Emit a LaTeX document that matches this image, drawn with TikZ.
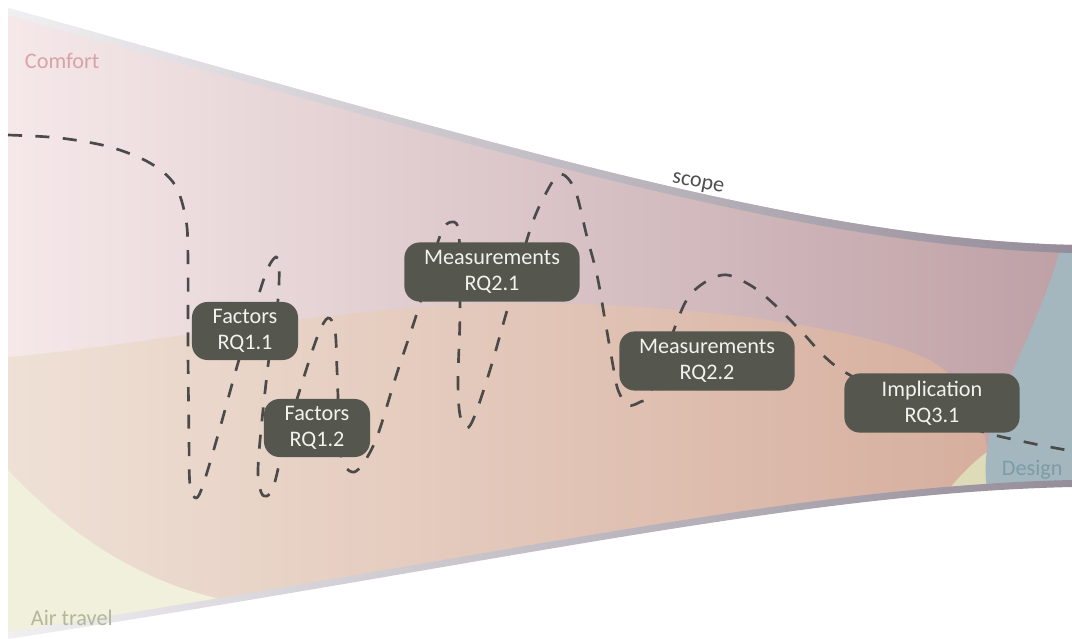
\documentclass[tikz,border=0pt]{standalone}
\usepackage{fontspec}
\setmainfont{Carlito}

\definecolor{boxgrey}{HTML}{55574E}
\definecolor{boxtext}{HTML}{F2F2EE}
\definecolor{trailgrey}{HTML}{4A4A48}
\definecolor{comfortL}{HTML}{F6E9EA}
\definecolor{comfortM}{HTML}{E9CDCF}
\definecolor{comfortR}{HTML}{BEA0A5}
\definecolor{overlapL}{HTML}{EFE1D6}
\definecolor{overlapM}{HTML}{E5C6B7}
\definecolor{overlapR}{HTML}{D6AE9E}
\definecolor{airL}{HTML}{F1F0DC}
\definecolor{airR}{HTML}{DEDBB9}
\definecolor{designblue}{HTML}{A4B7BE}
\definecolor{edgeL}{HTML}{F0EFF1}
\definecolor{edgeR}{HTML}{958D99}
\definecolor{comforttext}{HTML}{D9A2A4}
\definecolor{airtext}{HTML}{B3B697}
\definecolor{designtext}{HTML}{7E9BA8}
\definecolor{scopetext}{HTML}{505050}

\newcommand\boxfont{\fontsize{15.8}{18.5}\selectfont}

\begin{document}
\begin{tikzpicture}[x={0.025cm}, y={-0.025cm},
	rq/.style = {fill=boxgrey, text=boxtext, rounded corners=11pt, align=center, inner sep=0pt, font=\boxfont},
	small/.style = {minimum width=2.65cm, minimum height=1.45cm},
	wide/.style = {minimum width=4.38cm, minimum height=1.48cm},
	trail/.style = {draw=trailgrey, line width=1.9pt, dash pattern=on 10pt off 9.5pt},
	area/.style = {font=\boxfont, anchor=west}]
	\useasboundingbox (0,0) rectangle (1072,638);
	% the funnel and its three areas
	\begin{scope}
		\clip (8,8) .. controls (500,145) and (800,238) .. (1072,245) -- (1072,484) .. controls (800,490) and (500,560) .. (8,636) -- cycle;
		\shade[left color=comfortL, middle color=comfortM, right color=comfortR] (0,0) rectangle (1072,638);
		\shade[left color=overlapL, middle color=overlapM, right color=overlapR] (8,357) .. controls (150,345) and (300,310) .. (500,303) .. controls (700,302) and (870,330) .. (930,360) .. controls (970,385) and (990,420) .. (992,500) -- (0,650) -- cycle;
		\fill[airL] (8,470) .. controls (60,525) and (130,580) .. (225,600) -- (225,660) -- (0,660) -- (0,470) -- cycle;
		\fill[airR] (940,500) .. controls (960,475) and (975,460) .. (990,450) -- (1000,500) -- cycle;
		\fill[designblue] (1064,235) .. controls (1040,330) and (995,390) .. (987,450) .. controls (984,470) and (986,490) .. (990,500) -- (1080,500) -- (1080,235) -- cycle;
	\end{scope}
	\shade[left color=edgeL, right color=edgeR] (8,8) .. controls (500,145) and (800,238) .. (1072,245) -- (1072,253) .. controls (800,246) and (500,153) .. (8,15) -- cycle;
	\shade[left color=edgeL, right color=edgeR] (8,632) .. controls (500,556) and (800,486) .. (1072,480) -- (1072,487) .. controls (800,493) and (500,563) .. (8,639) -- cycle;

	\node[area, text=comforttext] (comfort) at (20,61) {Comfort};
	\node[area, text=airtext] (air) at (26,618) {Air travel};
	\node[area, text=designtext] (design) at (997,470) {Design};
	\node[font=\boxfont, text=scopetext, rotate=-11] (scope) at (698,184) {scope};

	% the research path
	\coordinate (start) at (8,135);
	\coordinate (end) at (1072,451);
	\draw[trail] plot[smooth, tension=0.55] coordinates {(start) (60,138) (110,147) (150,163) (175,185) (186,220) (188,260) (188,350) (189,440) (190,485) (196,498) (203,485) (218,435) (238,363) (257,300) (268,268) (276,257) (279,265) (278,300) (270,350) (262,420) (258,470) (261,492) (267,496) (274,485) (285,440) (302,383) (318,335) (328,318) (335,330) (337,370) (339,420) (342,460) (352,472) (362,465) (377,437) (397,373) (417,313) (440,236) (452,222) (459,235) (460,313) (458,380) (460,415) (467,428) (475,415) (490,370) (508,307) (530,230) (545,195) (560,174) (575,190) (587,237) (597,275) (605,320) (612,360) (618,390) (628,405) (640,402) (650,393) (670,340) (690,295) (722,275) (750,285) (775,305) (800,330) (837,367) (900,400) (977,430) (1030,443) (end)};

	\node[rq, small] (rq11) at (245,331) {Factors\\RQ1.1};
	\node[rq, small] (rq12) at (317,428) {Factors\\RQ1.2};
	\node[rq, wide] (rq21) at (492,272) {Measurements\\RQ2.1};
	\node[rq, wide] (rq22) at (707,361) {Measurements\\RQ2.2};
	\node[rq, wide] (rq31) at (932,403) {Implication\\RQ3.1};
\end{tikzpicture}
\end{document}
